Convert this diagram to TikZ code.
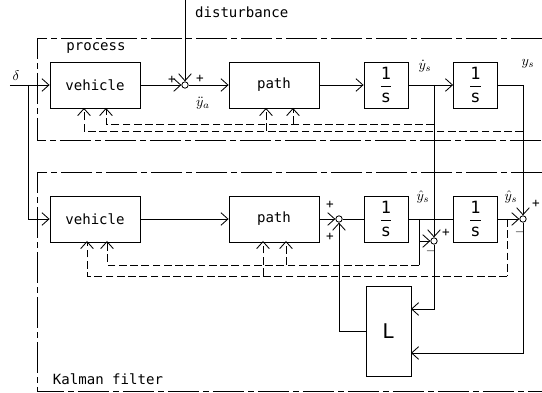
\documentclass[tikz,border=0pt]{standalone}
\usepackage{amsmath}
\usepackage{fontspec}
\setmainfont{DejaVu Sans Mono}
\usetikzlibrary{arrows.meta}
\tikzset{every picture/.style={line width=0.6pt},
  block/.style={draw, minimum width=2.25cm, minimum height=1.15cm, inner sep=0pt},
  intblock/.style={draw, minimum width=1.1cm, minimum height=1.15cm, inner sep=0pt, font=\large},
  sumnode/.style={draw, circle, minimum size=0.16cm, inner sep=0pt},
  fb/.style={dash pattern=on 5.5pt off 2.5pt},
  groupbox/.style={dash pattern=on 22pt off 3pt on 4pt off 3pt},
  sign/.style={inner sep=0pt, font=\small},
  >={Straight Barb[length=5pt,width=9pt]}}

\begin{document}
\begin{tikzpicture}[x=0.025cm, y=-0.025cm]
    \useasboundingbox (0,0) rectangle (542,393);

    % process
    \draw[groupbox] (542,38) -- (37,38) -- (37,140) -- (542,140);
    \node (lblproc) at (96,48) {process};
    \node[block] (veh1) at (95,85) {vehicle};
    \node[sumnode] (s1) at (185,85) {};
    \node[block] (path1) at (274,85) {path};
    \node[intblock] (int1) at (386,85) {$\dfrac{\text{1}}{\text{s}}$};
    \node[intblock] (int2) at (475.5,85) {$\dfrac{\text{1}}{\text{s}}$};

    % ingang en storing
    \coordinate (in) at (10,85);
    \coordinate (br) at (28,85);
    \coordinate (dist) at (185,0);
    \node (lbldelta) at (16,76) {$\delta$};
    \node[anchor=west] (lbldist) at (190,12) {disturbance};
    \draw[->] (in) -- (veh1);
    \draw[->] (veh1) -- (s1);
    \draw[->] (dist) -- (s1);
    \node[sign] (p1) at (172,80) {+};
    \node[sign] (p2) at (200,79) {+};
    \draw[->] (s1) -- (path1);
    \node (lblacc) at (203,103) {$\ddot{y}_a$};
    \draw[->] (path1) -- (int1);
    \draw[->] (int1) -- (int2);
    \node[inner sep=1pt] (lblyd) at (425,66) {$\dot{y}_s$};
    \node (lblys) at (528,64) {$y_s$};

    % terugkoppeling process
    \coordinate (yd) at (434,85);
    \coordinate (ys) at (523,85);
    \coordinate (ydt) at (434,124);
    \coordinate (yst) at (523,131);
    \coordinate (v1a) at (84,108);
    \coordinate (v1b) at (106,108);
    \coordinate (p1a) at (266,108);
    \coordinate (p1b) at (293,108);
    \draw (int2) -- (ys);
    \draw[fb,->] (ydt) -| (v1b);
    \draw[fb,->] (ydt -| p1b) -- (p1b);
    \draw[fb,->] (yst) -| (v1a);
    \draw[fb,->] (yst -| p1a) -- (p1a);

    % Kalman filter
    \draw[groupbox] (542,172) -- (37,172) -- (37,391) -- (542,391);
    \node (lblkal) at (108,379) {Kalman filter};
    \node[block] (veh2) at (95,219) {vehicle};
    \node[block] (path2) at (274,219) {path};
    \node[sumnode] (s2) at (339,219) {};
    \node[intblock] (int3) at (386,219) {$\dfrac{\text{1}}{\text{s}}$};
    \node[intblock] (int4) at (475.5,219) {$\dfrac{\text{1}}{\text{s}}$};
    \node[sumnode] (s3) at (434,241) {};
    \node[sumnode] (s4) at (523,219) {};
    \node[draw, minimum width=1.125cm, minimum height=2.25cm] (L) at (388.5,331) {\Large L};

    \draw[->] (br) |- (veh2);
    \draw[->] (veh2) -- (path2);
    \draw[->] (path2) -- (s2);
    \node[sign] (p3) at (330,205) {+};
    \node[sign] (p4) at (330,237) {+};
    \draw (s2) -- (int3);
    \draw (int3) -- (int4);
    \node (lblyhd) at (423,197) {$\hat{y}_s$};
    \node (lblyh) at (511,197) {$\hat{y}_s$};

    % schattingsfout
    \coordinate (yhd) at (419,219);
    \coordinate (yhb) at (419,265);
    \coordinate (yh) at (507,219);
    \coordinate (yhc) at (507,276);
    \draw (yhd) -- (yhb);
    \draw[->] (yhd |- s3) -- (s3);
    \draw[->] (yd) -- (s3);
    \node[sign] (p5) at (446,233) {+};
    \node[sign] (m1) at (431,251) {$-$};
    \draw[->] (int4) -- (s4);
    \draw[->] (ys) -- (s4);
    \node[sign] (p6) at (536,204) {+};
    \node[sign] (m2) at (520,232) {$-$};

    % terugkoppeling filter
    \coordinate (v2a) at (87,241);
    \coordinate (v2b) at (107,241);
    \coordinate (p2a) at (263,241);
    \coordinate (p2b) at (286,241);
    \draw[fb,->] (yhb) -| (v2b);
    \draw[fb,->] (yhb -| p2b) -- (p2b);
    \draw[fb] (yh) -- (yhc);
    \draw[fb,->] (yhc) -| (v2a);
    \draw[fb,->] (yhc -| p2a) -- (p2a);

    % versterking L
    \coordinate (lin1) at (411,309);
    \coordinate (lin2) at (411,353);
    \draw[->] (s3) |- (lin1);
    \draw[->] (s4) |- (lin2);
    \draw[->] (L) -| (s2);
\end{tikzpicture}
\end{document}
